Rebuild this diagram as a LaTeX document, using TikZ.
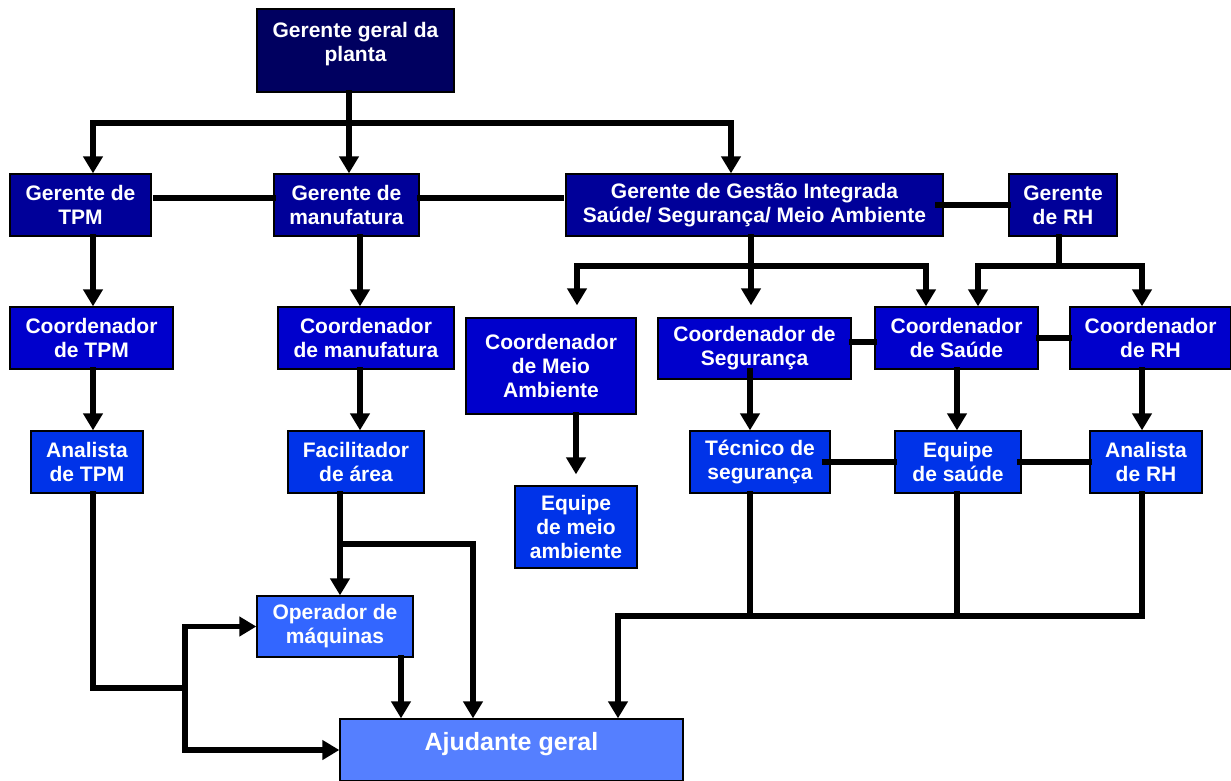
\documentclass[tikz,border=0pt]{standalone}
\usepackage{fontspec}
\setmainfont{Liberation Sans}
\usetikzlibrary{arrows.meta}
\definecolor{cTop}{HTML}{000060}
\definecolor{cGer}{HTML}{000099}
\definecolor{cCoo}{HTML}{0000CC}
\definecolor{cAna}{HTML}{0033E8}
\definecolor{cOpe}{HTML}{3366FF}
\definecolor{cAju}{HTML}{557FFF}
\tikzset{
  box/.style={draw=black, line width=1.3pt, text=white, align=center, inner sep=0pt,
    font=\fontsize{21}{24}\selectfont\bfseries},
  ln/.style={line width=5.5pt, line cap=rect, line join=miter, draw=black},
  arr/.style={ln, -{Triangle[width=19pt 0,length=17pt 0]}},
}
\begin{document}
\begin{tikzpicture}[x=1pt,y=-1pt]
\useasboundingbox (0,0) rectangle (1231,781);
% boxes
\node[box, fill=cTop, minimum width=197pt, minimum height=83pt] (ggp) at (355.5,50.5) {};
\node[font=\fontsize{21}{24}\selectfont\bfseries, text=white, align=center] (ggpt) at (355.5,44) {Gerente geral da\\planta};
\node[box, fill=cGer, minimum width=141pt, minimum height=62pt] (gtpm) at (80.5,205) {Gerente de\\TPM};
\node[box, fill=cGer, minimum width=145pt, minimum height=62pt] (gman) at (346.5,205) {Gerente de\\manufatura};
\node[box, fill=cGer, minimum width=377pt, minimum height=62pt] (ggi) at (754.5,205) {Gerente de Gestão Integrada\\Saúde/ Segurança/ Meio Ambiente};
\node[box, fill=cGer, minimum width=108pt, minimum height=62pt] (grh) at (1063,205) {Gerente\\de RH};
\node[box, fill=cCoo, minimum width=163pt, minimum height=62pt] (ctpm) at (91.5,338) {Coordenador\\de TPM};
\node[box, fill=cCoo, minimum width=176pt, minimum height=62pt] (cman) at (366,338) {Coordenador\\de manufatura};
\node[box, fill=cCoo, minimum width=170pt, minimum height=96pt] (cma) at (551,366) {Coordenador\\de Meio\\Ambiente};
\node[box, fill=cCoo, minimum width=193pt, minimum height=61pt] (cseg) at (754.5,348.5) {Coordenador de\\Segurança};
\node[box, fill=cCoo, minimum width=163pt, minimum height=62pt] (csau) at (956.5,338) {Coordenador\\de Saúde};
\node[box, fill=cCoo, minimum width=161pt, minimum height=62pt] (crh) at (1150.5,338) {Coordenador\\de RH};
\node[box, fill=cAna, minimum width=112pt, minimum height=62pt] (atpm) at (87,462) {Analista\\de TPM};
\node[box, fill=cAna, minimum width=136pt, minimum height=62pt] (fac) at (356,462) {Facilitador\\de área};
\node[box, fill=cAna, minimum width=122pt, minimum height=82pt] (ema) at (576,527) {Equipe\\de meio\\ambiente};
\node[box, fill=cAna, minimum width=140pt, minimum height=62pt] (tec) at (760,462) {Técnico de\\segurança};
\node[box, fill=cAna, minimum width=126pt, minimum height=62pt] (esau) at (958,462) {Equipe\\de saúde};
\node[box, fill=cAna, minimum width=112pt, minimum height=62pt] (arh) at (1146,462) {Analista\\de RH};
\node[box, fill=cOpe, minimum width=156pt, minimum height=61pt] (op) at (335,626.5) {Operador de\\máquinas};
\node[box, fill=cAju, minimum width=343pt, minimum height=62pt] (ajud) at (511.5,750) {};
\node[font=\fontsize{25}{28}\selectfont\bfseries, text=white] (ajudt) at (511.5,744) {Ajudante geral};
% coordinates
\coordinate (t0) at (349,123);
\coordinate (t1) at (93,123);
\coordinate (t2) at (731,123);
\coordinate (xm) at (360,0);
\coordinate (g1) at (577,266);
\coordinate (g2) at (751,266);
\coordinate (g3) at (926,266);
\coordinate (r0) at (1059,266);
\coordinate (r1) at (978,266);
\coordinate (r2) at (1142,266);
\coordinate (hseg) at (0,342);
\coordinate (b1) at (750,616);
\coordinate (b2) at (957,616);
\coordinate (b3) at (1142,616);
\coordinate (b0) at (618,616);
\coordinate (a1) at (93,688);
\coordinate (a2) at (185,688);
\coordinate (a3) at (185,626.5);
\coordinate (a4) at (185,750);
\coordinate (f0) at (340,544);
\coordinate (f1) at (473,544);
\coordinate (xo) at (401,0);
\coordinate (xe) at (576,0);
\coordinate (xs) at (957,0);
% top level
\draw[ln] (t0 |- ggp.south) -- (t0);
\draw[ln] (t1) -- (t2);
\draw[arr] (t1) -- (t1 |- gtpm.north);
\draw[arr] (t0) -- (t0 |- gman.north);
\draw[arr] (t2) -- (t2 |- ggi.north);
% managers horizontal
\draw[ln] ([xshift=4pt,yshift=7pt]gtpm.east) -- ([yshift=7pt]gman.west);
\draw[ln] ([yshift=7pt]gman.east) -- ([xshift=-4pt,yshift=7pt]ggi.west);
\draw[ln] ([xshift=-6pt]ggi.east) -- (grh.west);
% managers to coordinators
\draw[arr] (gtpm.south -| t1) -- (ctpm.north -| t1);
\draw[arr] (gman.south -| xm) -- (cman.north -| xm);
\draw[ln] (ggi.south -| g2) -- (g2);
\draw[ln] (g1) -- (g3);
\draw[arr] (g1) -- ([yshift=12pt]cma.north -| g1);
\draw[arr] (g2) -- ([yshift=12pt]cseg.north -| g2);
\draw[arr] (g3) -- (csau.north -| g3);
\draw[ln] (grh.south -| r0) -- (r0);
\draw[ln] (r1) -- (r2);
\draw[arr] (r1) -- (csau.north -| r1);
\draw[arr] (r2) -- (crh.north -| r2);
% coordinators horizontal
\draw[ln] (cseg.east |- hseg) -- (csau.west |- hseg);
\draw[ln] (csau.east) -- (crh.west);
% coordinators to staff
\draw[arr] (ctpm.south -| t1) -- (atpm.north -| t1);
\draw[arr] (cman.south -| xm) -- (fac.north -| xm);
\draw[arr] (cma.south -| xe) -- ([yshift=11pt]ema.north -| xe);
\draw[arr] ([yshift=9pt]cseg.south -| b1) -- (tec.north -| b1);
\draw[arr] (csau.south -| xs) -- (esau.north -| xs);
\draw[arr] (crh.south -| r2) -- (arh.north -| r2);
% staff horizontal
\draw[ln] ([xshift=-6pt]tec.east) -- (esau.west);
\draw[ln] ([xshift=-2pt]esau.east) -- (arh.west);
% to ajudante (right)
\draw[ln] (tec.south -| b1) -- (b1);
\draw[ln] (esau.south -| b2) -- (b2);
\draw[ln] (arh.south -| b3) -- (b3);
\draw[ln] (b0) -- (b3);
\draw[arr] (b0) -- (ajud.north -| b0);
% left
\draw[ln] (atpm.south -| a1) -- (a1) -- (a2);
\draw[ln] (a3) -- (a4);
\draw[arr] (a3) -- (op.west);
\draw[arr] (a4) -- (ajud.west);
% facilitador
\draw[arr] (fac.south -| f0) -- (op.north -| f0);
\draw[ln] (f0) -- (f1);
\draw[arr] (f1) -- (ajud.north -| f1);
\draw[arr] (op.south -| xo) -- (ajud.north -| xo);
\end{tikzpicture}
\end{document}
